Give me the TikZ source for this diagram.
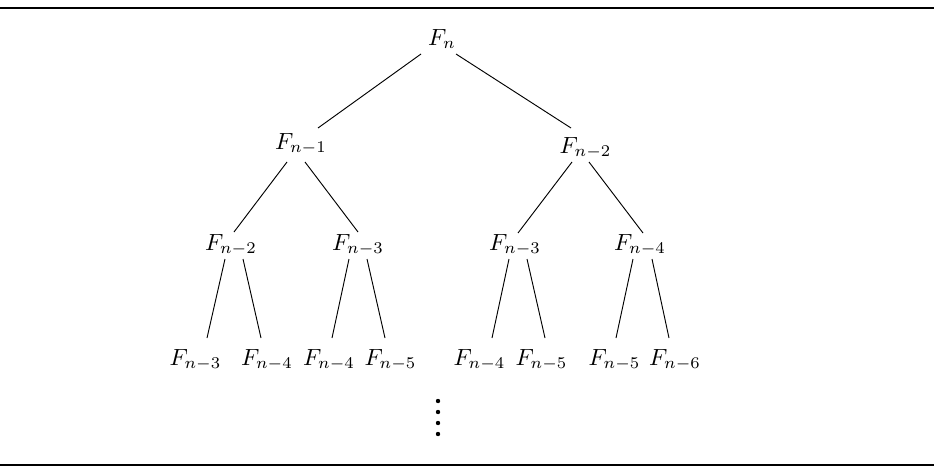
\documentclass[tikz,border=0pt]{standalone}
\usetikzlibrary{calc}
\begin{document}
\begin{tikzpicture}[x=0.427pt,y=-0.427pt,
  fib/.style={anchor=base,inner sep=0pt},
  edge/.style={line width=0.4pt},
  rule/.style={line width=0.6pt}]
\useasboundingbox (0,0) rectangle (934,468);
\draw[rule] (0,8) -- (934,8);
\draw[rule] (0,465) -- (934,465);
% level 1
\node[fib] (r) at (442,45) {$F_n$};
% level 2
\node[fib] (a) at (301,149) {$F_{n-1}$};
\node[fib] (b) at (585.5,153) {$F_{n-2}$};
% level 3
\node[fib] (aa) at (231,250) {$F_{n-2}$};
\node[fib] (ab) at (358,250) {$F_{n-3}$};
\node[fib] (ba) at (515,250) {$F_{n-3}$};
\node[fib] (bb) at (640,250) {$F_{n-4}$};
% level 4
\node[fib] (aaa) at (195.5,365) {$F_{n-3}$};
\node[fib] (aab) at (267,365) {$F_{n-4}$};
\node[fib] (aba) at (329,365) {$F_{n-4}$};
\node[fib] (abb) at (390.5,365) {$F_{n-5}$};
\node[fib] (baa) at (479.5,365) {$F_{n-4}$};
\node[fib] (bab) at (541.5,365) {$F_{n-5}$};
\node[fib] (bba) at (614.5,365) {$F_{n-5}$};
\node[fib] (bbb) at (675,365) {$F_{n-6}$};
% edges level 1-2
\draw[edge] ([shift={(-21,9)}]r.base) -- ([shift={(17,-21)}]a.base);
\draw[edge] ([shift={(14,9)}]r.base) -- ([shift={(-14.5,-25)}]b.base);
% edges level 2-3
\draw[edge] ([shift={(-14,13)}]a.base) -- ([shift={(3,-18)}]aa.base);
\draw[edge] ([shift={(4,13)}]a.base) -- ([shift={(0,-18)}]ab.base);
\draw[edge] ([shift={(-13.5,9)}]b.base) -- ([shift={(3,-17)}]ba.base);
\draw[edge] ([shift={(3.5,9)}]b.base) -- ([shift={(3,-17)}]bb.base);
% edges level 3-4
\draw[edge] ([shift={(-6,9)}]aa.base) -- ([shift={(11.5,-27)}]aaa.base);
\draw[edge] ([shift={(12,9)}]aa.base) -- ([shift={(-6,-27)}]aab.base);
\draw[edge] ([shift={(-9,9)}]ab.base) -- ([shift={(3,-27)}]aba.base);
\draw[edge] ([shift={(9,9)}]ab.base) -- ([shift={(-5.5,-27)}]abb.base);
\draw[edge] ([shift={(-6,9)}]ba.base) -- ([shift={(12.5,-27)}]baa.base);
\draw[edge] ([shift={(12,9)}]ba.base) -- ([shift={(3.5,-27)}]bab.base);
\draw[edge] ([shift={(-7,9)}]bb.base) -- ([shift={(1.5,-27)}]bba.base);
\draw[edge] ([shift={(12,9)}]bb.base) -- ([shift={(-6,-27)}]bbb.base);
% continuation dots
\foreach \yy in {401,412,423,434} \fill (438,\yy) circle (2.2);
\end{tikzpicture}
\end{document}
